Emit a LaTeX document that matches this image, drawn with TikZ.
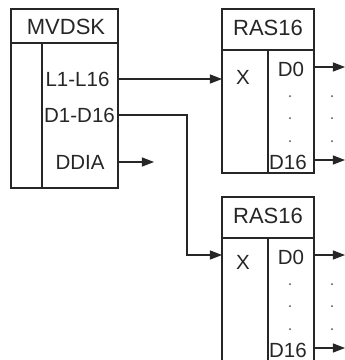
\documentclass[tikz,border=0pt]{standalone}
\usepackage{fontspec}
\setmainfont{Liberation Sans}
\usetikzlibrary{arrows.meta,positioning}

\tikzset{
  box/.style={draw=black!85, line width=1.6pt},
  lbl/.style={font=\fontsize{20.5}{22}\selectfont, text=black!85, inner sep=0pt},
  ttl/.style={font=\fontsize{22}{24}\selectfont, text=black!85, inner sep=0pt},
  sig/.style={draw=black!85, line width=1.1pt, -{Triangle[length=12pt,width=9pt]}},
  dotmark/.style={circle, fill=black!70, inner sep=0pt, minimum size=2pt},
}

\begin{document}
\begin{tikzpicture}[x=1pt,y=-1pt]
    \useasboundingbox (0,0) rectangle (345,360);
    \clip (0,0) rectangle (345,360);

    % MVDSK block
    \draw[box] (11,9) rectangle (118,188);
    \draw[box] (11,43) -- (118,43);
    \draw[box] (42,43) -- (42,188);
    \node[ttl] (mvdsk) at (66,27) {MVDSK};
    \node[lbl] (l16) at (77.5,79) {L1-L16};
    \node[lbl] (d16) at (79.5,115) {D1-D16};
    \node[lbl] (ddia) at (80,162) {DDIA};
    \coordinate (l16out) at (118,79);
    \coordinate (d16out) at (118,115);
    \coordinate (ddiaout) at (118,162);
    \coordinate (ddiaend) at (154,162);

    % two RAS16 blocks
    \foreach \name/\dy in {rasA/0, rasB/188} {
      \begin{scope}[shift={(0,\dy)}]
        \draw[box] (222,9) rectangle (314,173);
        \draw[box] (222,50) -- (314,50);
        \draw[box] (268,50) -- (268,173);
        \node[ttl] (\name-title) at (268,28) {RAS16};
        \node[lbl] (\name-d0) at (291,69) {D0};
        \node[lbl] (\name-d16) at (288,162) {D16};
        \foreach \yy in {96,118,141} {
          \node[dotmark] at (290,\yy) {};
          \node[dotmark] at (332,\yy) {};
        }
        \coordinate (\name-d0out) at (314,67);
        \coordinate (\name-d0end) at (345,67);
        \coordinate (\name-d16out) at (314,160);
        \coordinate (\name-d16end) at (345,160);
        \draw[sig] (\name-d0out) -- (\name-d0end);
        \draw[sig] (\name-d16out) -- (\name-d16end);
      \end{scope}
    }
    \node[lbl] (rasA-x) at (243,77) {X};
    \node[lbl] (rasB-x) at (243,262) {X};
    \coordinate (rasA-in) at (222,79);
    \coordinate (rasB-in) at (222,255);

    % connectors
    \draw[sig] (l16out) -- (rasA-in);
    \draw[sig] (d16out) -| (187,255) -- (rasB-in);
    \draw[sig] (ddiaout) -- (ddiaend);
\end{tikzpicture}
\end{document}
